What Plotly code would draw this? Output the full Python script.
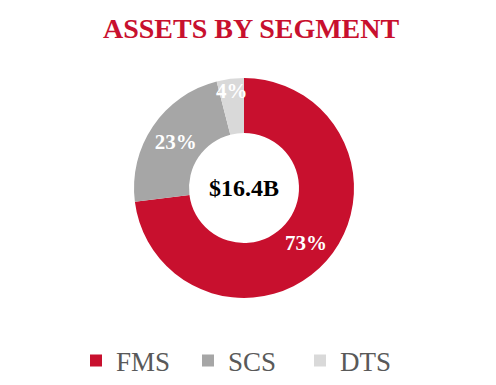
import plotly.graph_objects as go

segments = ["FMS", "SCS", "DTS"]
shares = [73, 23, 4]
colors = ["#C8102E", "#A6A6A6", "#D9D9D9"]
total_label = "$16.4B"
title_text = "ASSETS BY SEGMENT"

fig = go.Figure(go.Pie(
    labels=segments,
    values=shares,
    hole=0.5,
    sort=False,
    direction="clockwise",
    rotation=0,
    marker=dict(colors=colors, line=dict(width=0)),
    texttemplate="<b>%{value}%</b>",
    textposition="inside",
    insidetextorientation="horizontal",
    textfont=dict(family="Liberation Serif", size=21, color="white"),
    hoverinfo="label+percent",
))

fig.update_layout(
    width=496, height=385,
    paper_bgcolor="white", plot_bgcolor="white",
    margin=dict(l=0, r=24, t=70, b=95),
    uniformtext=dict(minsize=21, mode="show"),
    annotations=[
        dict(text="<b>" + title_text + "</b>", x=0.515, y=1.225, xref="paper", yref="paper",
             xanchor="center", yanchor="middle", showarrow=False,
             font=dict(family="Liberation Serif", size=28, color="#C8102E")),
        dict(text="<b>" + total_label + "</b>", x=0.5, y=0.5, xref="paper", yref="paper",
             showarrow=False, font=dict(family="Liberation Serif", size=24, color="black")),
    ],
    legend=dict(orientation="h", x=0.5, xanchor="center", y=-0.175, yanchor="top",
                font=dict(family="Liberation Serif", size=27, color="#595959"),
                itemwidth=30, entrywidth=67, entrywidthmode="pixels"),
    showlegend=True,
)

fig.write_html("out.html")
